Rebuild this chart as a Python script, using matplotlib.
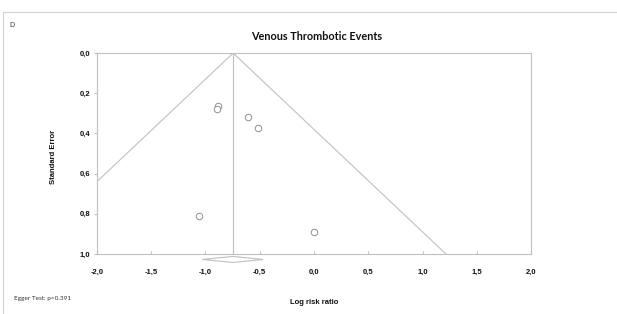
import matplotlib.pyplot as plt
import matplotlib.lines as mlines
import numpy as np

# study estimates (log risk ratio) and standard errors
log_rr = [-0.885, -0.894, -0.608, -0.516, -1.06, 0.0]
std_err = [0.264, 0.279, 0.318, 0.373, 0.811, 0.891]

# pooled estimate and its 95% CI (the diamond)
pooled = -0.745
pooled_lo = -1.03
pooled_hi = -0.47

xticks = [-2.0, -1.5, -1.0, -0.5, 0.0, 0.5, 1.0, 1.5, 2.0]
yticks = [0.0, 0.2, 0.4, 0.6, 0.8, 1.0]

grey = '#c0c0c0'
tick_font = {'family': 'Liberation Sans', 'weight': 'bold', 'size': 5.5}

fig = plt.figure(figsize=(6.17, 3.14), dpi=100)
ax = fig.add_axes([0.157, 0.191, 0.704, 0.640])

# funnel lines
se_max = 1.0
ax.plot([pooled - 1.96 * se_max, pooled, pooled + 1.96 * se_max], [se_max, 0, se_max],
        color=grey, lw=0.8)
ax.plot([pooled, pooled], [0, se_max], color=grey, lw=0.8)

ax.scatter(log_rr, std_err, s=22, facecolors='white', edgecolors='#909090', linewidths=0.7, zorder=3)

# diamond below axis
dh = 0.015
dy = 1.027
ax.fill([pooled_lo, pooled, pooled_hi, pooled], [dy, dy - dh, dy, dy + dh],
        facecolor='white', edgecolor=grey, lw=0.8, clip_on=False, zorder=4)

ax.set_xlim(-2, 2)
ax.set_ylim(1.0, 0.0)
ax.set_xticks(xticks)
ax.set_yticks(yticks)
ax.set_xticklabels([('%.1f' % v).replace('.', ',') for v in xticks], fontdict=tick_font)
ax.set_yticklabels([('%.1f' % v).replace('.', ',') for v in yticks], fontdict=tick_font)
ax.tick_params(axis='x', direction='in', length=2, color=grey, pad=11, labelcolor='#111111')
ax.tick_params(axis='y', direction='out', length=2, color=grey, pad=3, labelcolor='#111111')
for s in ax.spines.values():
    s.set_color(grey)
    s.set_linewidth(0.8)

fig.text(0.513, 0.884, 'Venous Thrombotic Events', ha='center', va='center',
         family='Lato', weight='bold', size=7.8, color='#111111')
fig.text(0.509, 0.038, 'Log risk ratio', ha='center', va='center',
         family='Liberation Sans', weight='bold', size=5.5, color='#111111')
fig.text(0.086, 0.50, 'Standard Error', ha='center', va='center', rotation=90,
         family='Liberation Sans', weight='bold', size=5.5, color='#111111')
fig.text(0.016, 0.918, 'D', ha='left', va='center', family='Liberation Sans', size=5, color='#333333')
fig.text(0.022, 0.048, 'Egger Test: p=0.391', ha='left', va='center',
         family='Lato', size=4.6, color='#333333')

# outer frame (top and left)
fig.add_artist(mlines.Line2D([3 / 617, 1], [1 - 12 / 314, 1 - 12 / 314], transform=fig.transFigure,
                             color='#d0d0d0', lw=0.8))
fig.add_artist(mlines.Line2D([3 / 617, 3 / 617], [0, 1 - 12 / 314], transform=fig.transFigure,
                             color='#d0d0d0', lw=0.8))

fig.savefig('out.png', dpi=100)
